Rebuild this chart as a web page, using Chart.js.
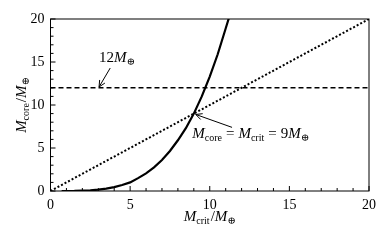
<!DOCTYPE html>
<html>
<head>
<meta charset="utf-8">
<script src="https://cdn.jsdelivr.net/npm/chart.js@4/dist/chart.umd.min.js"></script>
<style>
  html, body { margin: 0; padding: 0; background: #fff; }
  #wrap { width: 391px; height: 241px; }
</style>
</head>
<body>
<div id="wrap"><canvas id="canvas_mass"></canvas></div>
<script>
// critical core mass curve
var critMass = [0.7, 1.5, 2.5, 3, 3.5, 4, 4.5, 5, 5.5, 6, 6.5, 7, 7.5, 8, 8.5, 9, 9.5, 10, 10.5, 11, 11.25];
var coreMass = [0, 0.01, 0.08, 0.15, 0.27, 0.45, 0.69, 1.0, 1.5, 2.05, 2.75, 3.6, 4.65, 5.9, 7.3, 9, 11.0, 13.3, 15.9, 18.9, 20.4];
// reference lines
var equalLineX = [0, 20];
var equalLineY = [0, 20];
var fixedCoreX = [0, 20];
var fixedCoreY = [12, 12];
// axis ticks
var tickMin = 0, tickMax = 20, tickStep = 1, labelEvery = 5;

var serif = '"Liberation Serif", "DejaVu Serif", serif';

function toPoints(xs, ys) {
  var pts = [];
  for (var i in xs) pts.push({x: xs[i], y: ys[i]});
  return pts;
}

// draws "M_sub" pieces, returns new x
function drawMathText(ctx, parts, x, y) {
  for (var i in parts) {
    var p = parts[i];
    ctx.font = (p.it ? 'italic ' : '') + p.size + 'px ' + serif;
    ctx.fillText(p.t, x, y + (p.dy || 0));
    x += ctx.measureText(p.t).width + (p.gap || 0);
  }
  return x;
}
function mathWidth(ctx, parts) {
  var w = 0;
  for (var i in parts) {
    var p = parts[i];
    ctx.font = (p.it ? 'italic ' : '') + p.size + 'px ' + serif;
    w += ctx.measureText(p.t).width + (p.gap || 0);
  }
  return w;
}
function arrow(ctx, x1, y1, x2, y2) {
  ctx.beginPath();
  ctx.moveTo(x1, y1); ctx.lineTo(x2, y2);
  var a = Math.atan2(y2 - y1, x2 - x1), L = 7, s = 0.45;
  ctx.moveTo(x2 - L * Math.cos(a - s), y2 - L * Math.sin(a - s));
  ctx.lineTo(x2, y2);
  ctx.lineTo(x2 - L * Math.cos(a + s), y2 - L * Math.sin(a + s));
  ctx.stroke();
}

var M = function (sz) { return {t: 'M', it: true, size: sz}; };
var xTitle = [M(15), {t: 'crit', size: 10, dy: 3, gap: 1}, {t: '/', size: 15}, M(15), {t: '⊕', size: 10, dy: 3}];
var yTitle = [M(15), {t: 'core', size: 10, dy: 3, gap: 1}, {t: '/', size: 15}, M(15), {t: '⊕', size: 10, dy: 3}];
var label12 = [{t: '12', size: 15}, M(15), {t: '⊕', size: 10, dy: 3}];
var labelEq = [M(15), {t: 'core', size: 10, dy: 3, gap: 4}, {t: '=', size: 15, gap: 4}, M(15),
               {t: 'crit', size: 10, dy: 3, gap: 4}, {t: '=', size: 15, gap: 4}, {t: '9', size: 15}, M(15), {t: '⊕', size: 10, dy: 3}];

var framePlugin = {
  id: 'frame',
  afterDraw: function (chart) {
    var ctx = chart.ctx, a = chart.chartArea;
    var xs = chart.scales.x, ys = chart.scales.y;
    ctx.save();
    ctx.strokeStyle = '#000';
    ctx.fillStyle = '#000';
    ctx.lineWidth = 1;
    ctx.strokeRect(a.left, a.top, a.right - a.left, a.bottom - a.top);
    // inward ticks
    ctx.beginPath();
    xs.ticks.forEach(function (t) {
      var px = xs.getPixelForValue(t.value);
      var len = (t.value % labelEvery === 0) ? 5 : 3;
      ctx.moveTo(px, a.bottom); ctx.lineTo(px, a.bottom - len);
    });
    ys.ticks.forEach(function (t) {
      var py = ys.getPixelForValue(t.value);
      var len = (t.value % labelEvery === 0) ? 5 : 3;
      ctx.moveTo(a.left, py); ctx.lineTo(a.left + len, py);
    });
    ctx.stroke();

    ctx.textBaseline = 'alphabetic';
    ctx.textAlign = 'left';
    // x axis title
    var w = mathWidth(ctx, xTitle);
    drawMathText(ctx, xTitle, (a.left + a.right) / 2 - w / 2, a.bottom + 30);
    // y axis title
    ctx.save();
    ctx.translate(26, (a.top + a.bottom) / 2);
    ctx.rotate(-Math.PI / 2);
    w = mathWidth(ctx, yTitle);
    drawMathText(ctx, yTitle, -w / 2, 0);
    ctx.restore();

    // annotations
    drawMathText(ctx, label12, xs.getPixelForValue(3.05), ys.getPixelForValue(15.0));
    drawMathText(ctx, labelEq, xs.getPixelForValue(8.9), ys.getPixelForValue(6.2));
    ctx.lineWidth = 1;
    arrow(ctx, xs.getPixelForValue(3.75), ys.getPixelForValue(14.3), xs.getPixelForValue(3.05), ys.getPixelForValue(12.1));
    arrow(ctx, xs.getPixelForValue(11.4), ys.getPixelForValue(7.4), xs.getPixelForValue(9.12), ys.getPixelForValue(8.9));
    ctx.restore();
  }
};

function axisOpts(fit) {
  return {
    type: 'linear', min: tickMin, max: tickMax,
    grid: { drawOnChartArea: false, drawTicks: false },
    border: { display: false },
    ticks: {
      stepSize: tickStep, autoSkip: false, maxRotation: 0, padding: 6,
      color: '#000', font: { family: serif, size: 14 },
      callback: function (v) { return (v % labelEvery === 0) ? v : ''; }
    },
    afterFit: fit
  };
}

var config = {
  type: 'scatter',
  data: {
    datasets: [
      { data: toPoints(critMass, coreMass), showLine: true, borderColor: '#000', borderWidth: 2.2, pointRadius: 0 },
      { data: toPoints(equalLineX, equalLineY), showLine: true, borderColor: '#000', borderWidth: 2, borderDash: [2, 2], pointRadius: 0 },
      { data: toPoints(fixedCoreX, fixedCoreY), showLine: true, borderColor: '#000', borderWidth: 1.5, borderDash: [5, 3], pointRadius: 0 }
    ]
  },
  options: {
    responsive: true, maintainAspectRatio: false, animation: false,
    layout: { padding: { top: 19, right: 22, left: 0, bottom: 0 } },
    plugins: { legend: { display: false }, tooltip: { enabled: false } },
    scales: {
      x: axisOpts(function (s) { s.height = 50; }),
      y: axisOpts(function (s) { s.width = 50.5; })
    }
  },
  plugins: [framePlugin]
};

new Chart(document.getElementById('canvas_mass').getContext('2d'), config);
</script>
</body>
</html>
